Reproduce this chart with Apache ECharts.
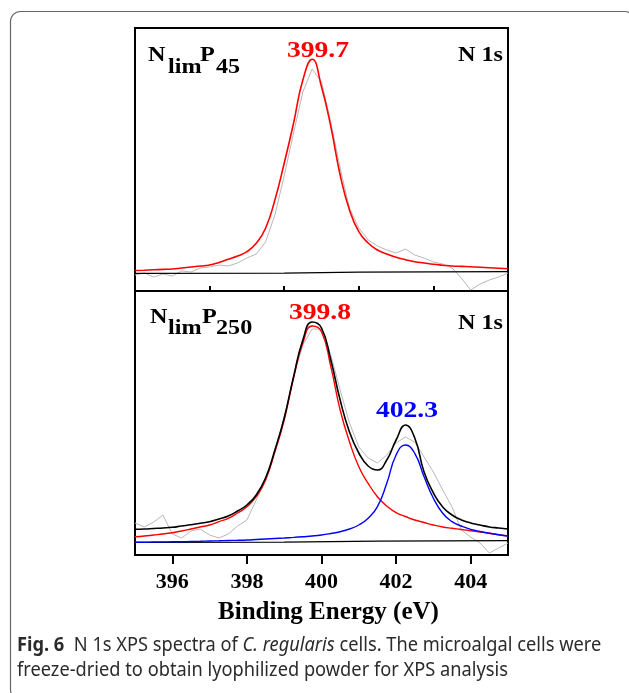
<!DOCTYPE html>
<html>
<head>
<meta charset="utf-8">
<script src="https://cdn.jsdelivr.net/npm/echarts@6/dist/echarts.min.js"></script>
<style>
html,body{margin:0;padding:0;background:#fff;}
#chart{width:629px;height:693px;}
</style>
</head>
<body>
<div id="chart"></div>
<script>
// binding energy grid (eV), shared by both panels
var energy = [395, 395.25, 395.5, 395.75, 396, 396.25, 396.5, 396.75, 397, 397.25,
    397.5, 397.75, 398, 398.25, 398.5, 398.75, 399, 399.25, 399.5, 399.75,
    400, 400.25, 400.5, 400.75, 401, 401.25, 401.5, 401.75, 402, 402.25,
    402.5, 402.75, 403, 403.25, 403.5, 403.75, 404, 404.25, 404.5, 404.75, 405];

// top panel: NlimP45 (a.u.)
var top_raw = [16, 18, 14, 17, 15, 20, 19, 23, 24, 26, 25, 28, 33, 37, 49, 76, 115, 158, 199, 222,
    209, 169, 123, 83, 63, 51, 45, 41, 38, 42, 36, 33, 29, 27, 23, 13, 1, 7, 11, 14, 18];
var top_fit = [20.5, 20.8, 21.2, 21.6, 22, 23, 24, 25, 26, 28.5, 31.7, 35, 39.3, 47.7, 62.7, 91, 127.7, 167.7, 211, 231.7,
    204.3, 164.3, 116, 81, 59.3, 48, 41, 37, 33.7, 31.3, 29.3, 28, 26.7, 25.8, 25, 24.6, 24.3, 23.8, 23.3, 22.8, 22.3];
var top_bg_e = [395, 399, 401, 405];
var top_bg = [17.7, 17.9, 18.8, 19.3];

// bottom panel: NlimP250 (a.u.)
var bot_raw = [32, 28, 33, 40, 21, 17, 24, 26, 20, 17, 21, 29, 35, 55, 74, 102, 138, 178, 210, 226,
    226, 200, 165, 132, 108, 97, 92, 100, 112, 118, 113, 98, 83, 65, 48, 25, 18, 12, 2, 7, 12];
var bot_fit1 = [18.3, 19, 20, 21, 22.3, 24, 26, 28, 30, 33.3, 36.7, 42, 48.3, 58.3, 75, 103.3, 135, 177, 212, 229,
    223.3, 188.3, 145, 113.3, 88.3, 71.7, 58.3, 49, 42.3, 38.5, 35, 32.5, 30, 28, 26.7, 25.5, 24.3, 23, 21.7, 20.3, 19];
var bot_fit2 = [12.7, 12.8, 13, 13.1, 13.2, 13.3, 13.5, 13.7, 14, 14.2, 14.5, 14.7, 15, 15.5, 16, 16.5, 17, 17.6, 18.3, 19,
    20, 21.5, 23.3, 26, 30, 36.7, 48.3, 71.7, 100, 110, 101.7, 78.3, 56.7, 41.7, 33.3, 29, 25.7, 23.5, 21.7, 20.2, 19];
var bot_env = [25.7, 26, 26.5, 27, 27.7, 29, 30.2, 31.7, 33.3, 36, 39, 44, 50, 60, 77, 105, 137, 178, 215, 233,
    227, 195, 155, 123, 102, 89, 85, 95, 115, 130, 117, 83, 62, 48, 40, 35, 32, 30, 28, 27, 26];
var bot_bg_e = [395, 399, 401.5, 405];
var bot_bg = [12.7, 12.8, 13.8, 14.3];

var major_ticks = [396, 398, 400, 402, 404];
var minor_ticks = [395, 397, 399, 401, 403, 405];

var serif = 'Liberation Serif';

function pairs(xs, ys) {
    return xs.map(function (x, i) { return [x, ys[i]]; });
}

//公共 line series
function line(xi, data, color, width, smooth, z) {
    return {
        type: 'line', xAxisIndex: xi, yAxisIndex: xi === 0 ? 0 : 1,
        data: data, symbol: 'none', smooth: smooth,
        lineStyle: {color: color, width: width}, z: z, animation: false
    };
}

// panel text, slightly stretched like the original figure
function txt(text, x, y, size, color, align, sx) {
    return {
        type: 'text', x: x, y: y, scaleX: sx || 1.15, z: 50,
        style: {
            text: text, fill: color, fontFamily: serif, fontWeight: 'bold', fontSize: size,
            align: align || 'left', verticalAlign: 'middle'
        }
    };
}

var chart = echarts.init(document.getElementById('chart'));

var option = {
    animation: false,
    grid: [
        {left: 135, top: 28, width: 373, height: 263, show: true, borderColor: '#000', borderWidth: 2, backgroundColor: 'transparent'},
        {left: 135, top: 291, width: 373, height: 264, show: true, borderColor: '#000', borderWidth: 2, backgroundColor: 'transparent'}
    ],
    xAxis: [
        {gridIndex: 0, type: 'value', min: 395, max: 405, show: false},
        {
            gridIndex: 1, type: 'value', min: 395, max: 405, interval: 1,
            axisLine: {lineStyle: {color: '#000', width: 2}},
            axisTick: {customValues: major_ticks, length: 9, lineStyle: {color: '#000', width: 2}},
            axisLabel: {customValues: major_ticks, margin: 16, color: '#000', fontFamily: serif, fontWeight: 'bold', fontSize: 22},
            splitLine: {show: false},
            name: 'Binding Energy (eV)', nameLocation: 'middle', nameGap: 45,
            nameTextStyle: {color: '#000', fontFamily: serif, fontWeight: 'bold', fontSize: 25, padding: [0, 0, 0, 14]}
        },
        {
            gridIndex: 1, type: 'value', min: 395, max: 405, interval: 1,
            axisLine: {show: false},
            axisTick: {customValues: minor_ticks, length: 5, lineStyle: {color: '#000', width: 2}},
            axisLabel: {show: false}, splitLine: {show: false}
        }
    ],
    yAxis: [
        {gridIndex: 0, type: 'value', min: 0, max: 263, show: false},
        {gridIndex: 1, type: 'value', min: 0, max: 264, show: false}
    ],
    series: [
        line(0, pairs(energy, top_raw), '#b8b8b8', 1, false, 1),
        line(0, pairs(top_bg_e, top_bg), '#000', 1.2, false, 2),
        line(0, pairs(energy, top_fit), '#ff0000', 1.6, true, 3),

        line(1, pairs(energy, bot_raw), '#b8b8b8', 1, false, 1),
        line(1, pairs(bot_bg_e, bot_bg), '#000', 1.2, false, 2),
        line(1, pairs(energy, bot_fit1), '#ff0000', 1.4, true, 3),
        line(1, pairs(energy, bot_fit2), '#0000ff', 1.4, true, 4),
        line(1, pairs(energy, bot_env), '#000', 1.6, true, 5)
    ],
    graphic: [
        // figure frame
        {type: 'rect', z: 0, shape: {x: 10.5, y: 11.5, width: 624, height: 688, r: 10},
            style: {fill: 'none', stroke: '#666', lineWidth: 1.2}},
        // top panel labels
        txt('N', 148, 56, 21, '#000'),
        txt('lim', 168, 68, 21, '#000'),
        txt('P', 200, 56, 21, '#000'),
        txt('45', 216, 68, 21, '#000'),
        txt('N 1s', 503, 56, 21, '#000', 'right'),
        txt('399.7', 318, 51, 24, '#ff0000', 'center'),
        // bottom panel labels
        txt('N', 150, 318, 21, '#000'),
        txt('lim', 168, 329, 21, '#000'),
        txt('P', 202, 318, 21, '#000'),
        txt('250', 216, 329, 21, '#000'),
        txt('N 1s', 503, 324, 21, '#000', 'right'),
        txt('399.8', 320, 313, 24, '#ff0000', 'center'),
        txt('402.3', 407, 411, 24, '#0000ff', 'center'),
        // caption
        {
            type: 'text', x: 17, y: 633, scaleX: 0.96, z: 50,
            style: {
                text: '{b|Fig. 6}  N 1s XPS spectra of {i|C. regularis} cells. The microalgal cells were\nfreeze-dried to obtain lyophilized powder for XPS analysis',
                fill: '#2b2b2b', fontFamily: 'Noto Sans', fontSize: 19, lineHeight: 25,
                align: 'left', verticalAlign: 'top',
                rich: {
                    b: {fontFamily: 'Noto Sans', fontSize: 19, fontWeight: 'bold', fill: '#2b2b2b', lineHeight: 25},
                    i: {fontFamily: 'Noto Sans', fontSize: 19, fontStyle: 'italic', fill: '#2b2b2b', lineHeight: 25}
                }
            }
        }
    ]
};

chart.setOption(option);
</script>
</body>
</html>
